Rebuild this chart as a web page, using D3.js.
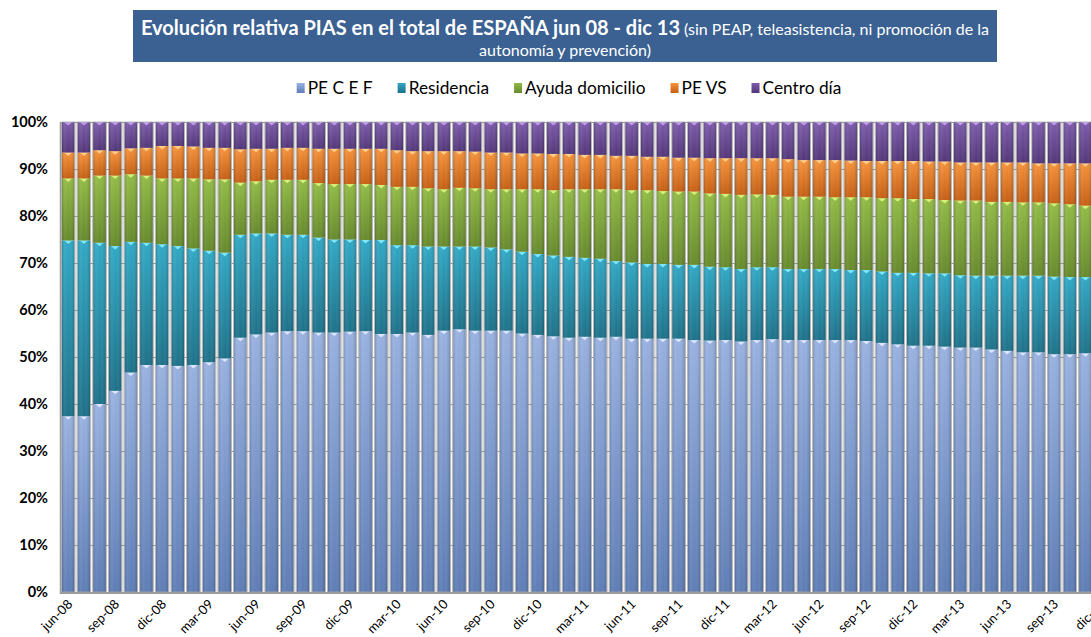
<!DOCTYPE html>
<html>
<head>
<meta charset="utf-8">
<script src="https://cdn.jsdelivr.net/npm/d3@7"></script>
<style>
body { margin: 0; background: #fff; overflow: hidden; }
svg { display: block; font-family: Lato, "Open Sans", sans-serif; }
</style>
</head>
<body>
<div id="chart"></div>
<script>
// meses jun-08 .. dic-13
var monthNames = ['ene','feb','mar','abr','may','jun','jul','ago','sep','oct','nov','dic'];
var months = [];
for (var yr = 8; yr <= 13; yr++) {
    for (var m = 0; m < 12; m++) {
        if (yr === 8 && m < 5) continue;
        months.push(monthNames[m] + '-' + (yr < 10 ? '0' + yr : yr));
    }
}

// % sobre el total de PIAS
var peCEF = [37.4,37.4,40.0,42.8,46.7,48.3,48.3,48.1,48.3,48.9,49.7,54.1,54.8,55.2,55.5,55.5,55.2,55.2,55.4,55.5,
             54.9,54.9,55.2,54.7,55.6,55.9,55.6,55.6,55.6,55.0,54.7,54.4,54.1,54.3,54.1,54.3,53.9,53.9,53.9,53.9,
             53.6,53.5,53.6,53.3,53.6,53.8,53.6,53.6,53.6,53.6,53.6,53.4,53.0,52.7,52.4,52.4,52.2,52.0,52.0,51.6,
             51.3,51.0,51.0,50.6,50.6,50.8,50.9];
var residencia = [37.4,37.4,34.3,30.8,27.8,26.0,25.7,25.5,24.8,23.7,22.5,21.9,21.5,21.1,20.5,20.5,20.2,19.8,19.6,19.4,
                  20.0,18.9,18.6,18.8,17.9,17.6,17.9,17.7,17.3,17.4,17.2,17.2,17.2,16.8,16.8,16.1,16.2,15.9,15.9,15.7,
                  16.0,15.7,15.5,15.4,15.5,15.3,15.1,15.1,15.1,15.1,14.9,15.1,15.2,15.2,15.5,15.4,15.6,15.4,15.3,15.7,
                  16.0,16.3,16.3,16.5,16.4,16.2,16.1];
var ayudaDomicilio = [13.2,13.2,14.3,15.0,14.4,14.3,14.0,14.4,14.9,15.2,15.6,11.1,11.1,11.4,11.7,11.7,11.6,11.8,11.8,11.9,
                      11.7,12.4,12.4,12.4,12.2,12.5,12.4,12.4,12.8,13.3,13.8,13.9,14.4,14.6,14.8,15.3,15.4,15.7,15.5,15.6,
                      15.6,15.6,15.6,15.8,15.5,15.4,15.4,15.4,15.4,15.3,15.5,15.5,15.6,15.9,15.7,15.8,15.6,15.9,16.0,15.7,
                      15.7,15.6,15.6,15.6,15.5,15.2,15.0];
var peVS = [5.5,5.5,5.4,5.2,5.5,5.9,6.9,6.9,6.8,6.7,6.7,7.1,6.9,6.6,6.8,6.8,7.3,7.5,7.5,7.5,
            7.7,7.8,7.6,7.9,8.1,7.8,7.8,7.8,7.8,7.6,7.6,7.7,7.5,7.3,7.3,7.1,7.3,7.1,7.3,7.2,
            7.2,7.5,7.6,7.8,7.7,7.8,8.0,7.8,7.8,7.9,7.8,7.7,7.9,7.9,8.1,8.0,8.2,8.1,8.1,8.4,
            8.4,8.5,8.3,8.5,8.7,9.0,9.2];
var centroDia = [6.5,6.5,6.0,6.2,5.6,5.5,5.1,5.1,5.2,5.5,5.5,5.8,5.7,5.7,5.5,5.5,5.7,5.7,5.7,5.7,
                 5.7,6.0,6.2,6.2,6.2,6.2,6.3,6.5,6.5,6.7,6.7,6.8,6.8,7.0,7.0,7.2,7.2,7.4,7.4,7.6,
                 7.6,7.7,7.7,7.7,7.7,7.7,7.9,8.1,8.1,8.1,8.2,8.3,8.3,8.3,8.3,8.4,8.4,8.6,8.6,8.6,
                 8.6,8.6,8.8,8.8,8.8,8.8,8.8];

var seriesNames = ['PE C E F', 'Residencia', 'Ayuda domicilio', 'PE VS', 'Centro día'];
var seriesValues = [peCEF, residencia, ayudaDomicilio, peVS, centroDia];
var yTicks = [0, 0.1, 0.2, 0.3, 0.4, 0.5, 0.6, 0.7, 0.8, 0.9, 1];

// top / bottom / chevron colours per series
var colors = [
    ['#98b1e0', '#5e7db6', '#dbe6ff'],
    ['#31a8c5', '#1d7189', '#7ee8fa'],
    ['#92bb45', '#66892c', '#d6f27a'],
    ['#f6923a', '#c55f14', '#ffd08a'],
    ['#7d5bab', '#523679', '#c39cf0']
];

var W = 1091, H = 637,
    plotLeft = 60, plotTop = 122, plotBottom = 592,
    step = 15.65;

var rows = months.map(function(mo, i) {
    var r = {month: mo};
    seriesNames.forEach(function(s, k) { r[s] = seriesValues[k][i]; });
    return r;
});

var stacked = d3.stack().keys(seriesNames).offset(d3.stackOffsetExpand)(rows);

var x = d3.scaleBand()
    .domain(months)
    .range([plotLeft, plotLeft + step * (months.length - 0.19 + 0.24)])
    .paddingInner(0.19)
    .paddingOuter(0.12);

var y = d3.scaleLinear().domain([0, 1]).range([plotBottom, plotTop]);

var svg = d3.select('#chart').append('svg')
    .attr('width', W)
    .attr('height', H);

var defs = svg.append('defs');
colors.forEach(function(c, k) {
    var g = defs.append('linearGradient')
        .attr('id', 'grad' + k)
        .attr('x1', 0).attr('y1', 0).attr('x2', 0).attr('y2', 1);
    g.append('stop').attr('offset', '0%').attr('stop-color', c[0]);
    g.append('stop').attr('offset', '100%').attr('stop-color', c[1]);
});
var side = defs.append('linearGradient').attr('id', 'side')
    .attr('x1', 0).attr('y1', 0).attr('x2', 1).attr('y2', 0);
side.append('stop').attr('offset', '0%').attr('stop-color', '#000').attr('stop-opacity', 0.18);
side.append('stop').attr('offset', '25%').attr('stop-color', '#fff').attr('stop-opacity', 0.06);
side.append('stop').attr('offset', '55%').attr('stop-color', '#fff').attr('stop-opacity', 0.0);
side.append('stop').attr('offset', '100%').attr('stop-color', '#000').attr('stop-opacity', 0.2);

// title
svg.append('rect')
    .attr('x', 133).attr('y', 10)
    .attr('width', 864).attr('height', 52)
    .attr('fill', '#3a6192');

var t1 = svg.append('text')
    .attr('x', 565).attr('y', 35)
    .attr('text-anchor', 'middle')
    .attr('fill', '#fff');
t1.append('tspan').attr('font-size', 20).attr('font-weight', 'bold')
    .text('Evolución relativa PIAS en el total de ESPAÑA jun 08 - dic 13');
t1.append('tspan').attr('font-size', 16)
    .text(' (sin PEAP, teleasistencia, ni promoción de la');
svg.append('text')
    .attr('x', 565).attr('y', 56)
    .attr('text-anchor', 'middle')
    .attr('fill', '#fff')
    .attr('font-size', 16)
    .text('autonomía y prevención)');

// legend
var legend = svg.append('g');
var lx = 0;
seriesNames.forEach(function(s, k) {
    var it = legend.append('g').attr('transform', 'translate(' + lx + ',0)');
    it.append('rect')
        .attr('x', 0).attr('y', -5)
        .attr('width', 8).attr('height', 10)
        .attr('fill', 'url(#grad' + k + ')');
    var tx = it.append('text')
        .attr('x', 11).attr('y', 6)
        .attr('font-size', 17.3)
        .attr('fill', '#000')
        .text(s);
    lx += 11 + tx.node().getComputedTextLength() + 25;
});
legend.attr('transform', 'translate(' + (569 - (lx - 25) / 2) + ',88)');

// gridlines
svg.append('g').selectAll('line')
    .data(yTicks)
    .enter().append('line')
    .attr('x1', plotLeft).attr('x2', W)
    .attr('y1', function(d) { return Math.round(y(d)) + 0.5; })
    .attr('y2', function(d) { return Math.round(y(d)) + 0.5; })
    .attr('stroke', '#8a8a8a')
    .attr('stroke-width', 1);

// bars
var bw = x.bandwidth();
var layers = svg.append('g').selectAll('g.layer')
    .data(stacked)
    .enter().append('g')
    .attr('class', 'layer');

layers.selectAll('rect.seg')
    .data(function(d) { return d; })
    .enter().append('rect')
    .attr('class', 'seg')
    .attr('x', function(d) { return x(d.data.month); })
    .attr('y', function(d) { return y(d[1]); })
    .attr('width', bw)
    .attr('height', function(d) { return y(d[0]) - y(d[1]); })
    .attr('fill', function() { return 'url(#grad' + d3.select(this.parentNode).datum().index + ')'; });

layers.selectAll('rect.shade')
    .data(function(d) { return d; })
    .enter().append('rect')
    .attr('class', 'shade')
    .attr('x', function(d) { return x(d.data.month); })
    .attr('y', function(d) { return y(d[1]); })
    .attr('width', bw)
    .attr('height', function(d) { return y(d[0]) - y(d[1]); })
    .attr('fill', 'url(#side)');

layers.selectAll('path.chev')
    .data(function(d) { return d; })
    .enter().append('path')
    .attr('class', 'chev')
    .attr('d', function(d) {
        var cx = x(d.data.month) + bw / 2, ty = y(d[1]);
        return 'M' + (cx - 4) + ',' + ty + 'L' + (cx + 4) + ',' + ty + 'L' + cx + ',' + (ty + 3.5) + 'Z';
    })
    .attr('fill', function() { return colors[d3.select(this.parentNode).datum().index][2]; });

// bar outlines
svg.append('g').selectAll('rect')
    .data(months)
    .enter().append('rect')
    .attr('x', function(d) { return x(d) - 0.5; })
    .attr('y', plotTop)
    .attr('width', bw + 1)
    .attr('height', plotBottom - plotTop)
    .attr('fill', 'none')
    .attr('stroke', '#a8a8a8')
    .attr('stroke-width', 0.8);

// floor and wall edges
svg.append('line')
    .attr('x1', plotLeft).attr('x2', W)
    .attr('y1', plotBottom + 1).attr('y2', plotBottom + 1)
    .attr('stroke', '#9c9c9c').attr('stroke-width', 2);
svg.append('line')
    .attr('x1', plotLeft + 0.5).attr('x2', plotLeft + 0.5)
    .attr('y1', plotTop).attr('y2', plotBottom + 2)
    .attr('stroke', '#9c9c9c').attr('stroke-width', 1.5);

// axes
svg.append('g')
    .attr('transform', 'translate(' + (plotLeft - 12) + ',0)')
    .call(d3.axisLeft(y).tickValues(yTicks).tickFormat(d3.format('.0%')).tickSize(0).tickPadding(0))
    .call(function(g) { g.select('.domain').remove(); })
    .selectAll('text')
    .attr('font-family', 'Lato, sans-serif')
    .attr('font-size', 14.5)
    .attr('font-weight', 'bold')
    .attr('fill', '#000');

svg.append('g')
    .attr('transform', 'translate(0,' + plotBottom + ')')
    .call(d3.axisBottom(x).tickValues(months.filter(function(d, i) { return i % 3 === 0; })).tickSize(0))
    .call(function(g) { g.select('.domain').remove(); })
    .selectAll('text')
    .attr('font-family', 'Lato, sans-serif')
    .attr('font-size', 13)
    .attr('fill', '#000')
    .attr('text-anchor', 'end')
    .attr('y', 0).attr('dy', 0)
    .attr('transform', 'translate(5,13) rotate(-45)');
</script>
</body>
</html>
